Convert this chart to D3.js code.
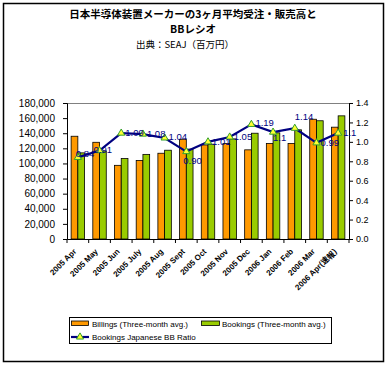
<!DOCTYPE html>
<html><head><meta charset="utf-8">
<script src="https://cdn.jsdelivr.net/npm/d3@7"></script>
<style>
body{margin:0;background:#fff;}
svg{display:block;}
text{font-family:"Liberation Sans",Arial,sans-serif;}
</style></head>
<body><svg id="c" width="388" height="366"></svg>
<script>
const categories = ["2005 Apr","2005 May","2005 Jun","2005 July","2005 Aug","2005 Sept","2005 Oct","2005 Nov","2005 Dec","2006 Jan","2006 Feb","2006 Mar","2006 Apr(速報)"];
const billings = [136000,128000,97500,104000,113500,132000,124500,126500,118000,126500,126500,158500,148000];
const bookings = [114000,116500,106500,112000,117500,119000,125500,132500,140000,140500,144500,156500,163000];
const ratio = [0.84,0.91,1.09,1.08,1.04,0.90,1.00,1.05,1.18,1.10,1.14,0.99,1.09];
const ratioLabels = ["0.84","0.91","1.09","1.08","1.04","0.90","1.01","1.05","1.19","1.1","1.14","0.99","1.1"];
const leftTicks = [0,20000,40000,60000,80000,100000,120000,140000,160000,180000];
const rightTicks = [0,0.2,0.4,0.6,0.8,1.0,1.2,1.4];
const seriesNames = ["Billings (Three-month avg.)","Bookings (Three-month avg.)","Bookings Japanese BB Ratio"];
const titleLines = ["日本半導体装置メーカーの3ヶ月平均受注・販売高と","BBレシオ","出典：SEAJ（百万円）"];

// label placement offsets (style only)
const labelOffsets = [[-2,-4],[-6,-1],[4,0],[4,0],[4,-1],[-3,9],[4,0],[4,0],[4,-2],[0,6],[0,-12],[4,0],[5,0]];

const svg = d3.select("#c");
const L=67,R=349,T=103,B=239;
const orange="#FF9900", green="#99CC00", navy="#000080";

svg.append("rect").attr("x",3.5).attr("y",3.5).attr("width",380).attr("height",358)
  .attr("fill","#fff").attr("stroke","#000").attr("stroke-width",1.5);

// title
const tfont = '"Noto Sans CJK JP","Noto Sans",sans-serif';
svg.append("text").attr("x",193).attr("y",18).attr("text-anchor","middle")
  .style("font-family",tfont).style("font-size","10.5px").style("font-weight","bold").text(titleLines[0]);
svg.append("text").attr("x",193).attr("y",33).attr("text-anchor","middle")
  .style("font-family",tfont).style("font-size","10.5px").style("font-weight","bold").text(titleLines[1]);
svg.append("text").attr("x",185).attr("y",47.5).attr("text-anchor","middle")
  .style("font-family",tfont).style("font-size","9.5px").text(titleLines[2]);

const x = d3.scaleBand().domain(categories).range([L,R]).padding(0);
const bw = x.bandwidth();
const sub = d3.scaleBand().domain(["b","k"]).range([bw*0.19, bw*0.81]).padding(0);
const yL = d3.scaleLinear().domain([0,180000]).range([B,T]);
const yR = d3.scaleLinear().domain([0,1.4]).range([B,T]);

// top border of plot
svg.append("line").attr("x1",L).attr("x2",R).attr("y1",T+0.5).attr("y2",T+0.5).attr("stroke","#808080").attr("stroke-width",1);

// bars
const g = svg.append("g");
categories.forEach((c,i)=>{
  g.append("rect").attr("x",x(c)+sub("b")).attr("y",yL(billings[i])).attr("width",sub.bandwidth()).attr("height",B-yL(billings[i]))
    .attr("fill",orange).attr("stroke","#000").attr("stroke-width",0.8);
  g.append("rect").attr("x",x(c)+sub("k")).attr("y",yL(bookings[i])).attr("width",sub.bandwidth()).attr("height",B-yL(bookings[i]))
    .attr("fill",green).attr("stroke","#000").attr("stroke-width",0.8);
});

// axes
const axL = d3.axisLeft(yL).tickValues(leftTicks).tickSize(4).tickPadding(8).tickFormat(d3.format(","));
const gL = svg.append("g").attr("transform",`translate(${L},0)`).call(axL);
gL.selectAll("text").style("font-size","10px").style("fill","#000");
gL.selectAll("path,line").attr("stroke","#000");

const axR = d3.axisRight(yR).tickValues(rightTicks).tickSize(4).tickPadding(3).tickFormat(d3.format(".1f"));
const gR = svg.append("g").attr("transform",`translate(${R},0)`).call(axR);
gR.selectAll("text").style("font-size","9px").style("fill","#000");
gR.selectAll("path,line").attr("stroke","#000");

const axB = d3.axisBottom(x).tickSize(0).tickFormat("");
const gB = svg.append("g").attr("transform",`translate(0,${B})`).call(axB);
gB.selectAll("path").attr("stroke","#000");
// category divider ticks
categories.forEach((c,i)=>{
  svg.append("line").attr("x1",x(c)).attr("x2",x(c)).attr("y1",B).attr("y2",B+4).attr("stroke","#000");
});
svg.append("line").attr("x1",R).attr("x2",R).attr("y1",B).attr("y2",B+4).attr("stroke","#000");

// x labels
categories.forEach((c,i)=>{
  const cx = x(c)+bw/2;
  svg.append("text").attr("transform",`translate(${cx-3},${B+11}) rotate(-45)`)
    .attr("text-anchor","end").attr("dy","0.35em")
    .style("font-size","8px").style("font-weight","bold").text(c);
});

// ratio line
const line = d3.line().x((d,i)=>x(categories[i])+bw/2).y(d=>yR(d));
svg.append("path").datum(ratio).attr("d",line).attr("fill","none").attr("stroke",navy).attr("stroke-width",2.2);
const tri = d3.symbol().type(d3.symbolTriangle).size(22);
ratio.forEach((d,i)=>{
  svg.append("path").attr("d",tri()).attr("transform",`translate(${x(categories[i])+bw/2},${yR(d)})`)
    .attr("fill","#FFFF33").attr("stroke","#33A02C").attr("stroke-width",1);
});
ratio.forEach((d,i)=>{
  const mx = x(categories[i])+bw/2, my=yR(d);
  svg.append("text").attr("x",mx+labelOffsets[i][0]).attr("y",my+labelOffsets[i][1]).attr("dy","0.35em")
    .style("font-size","9.5px").style("fill",navy).text(ratioLabels[i]);
});

// legend
svg.append("rect").attr("x",69.5).attr("y",317.5).attr("width",262).attr("height",26).attr("fill","#fff").attr("stroke","#000").attr("stroke-width",1);
svg.append("rect").attr("x",71.5).attr("y",321).attr("width",17).attr("height",4.5).attr("fill",orange).attr("stroke","#000").attr("stroke-width",0.8);
svg.append("text").attr("x",92).attr("y",326.5).style("font-size","8px").text(seriesNames[0]);
svg.append("rect").attr("x",201.5).attr("y",321).attr("width",18).attr("height",4.5).attr("fill",green).attr("stroke","#000").attr("stroke-width",0.8);
svg.append("text").attr("x",222).attr("y",326.5).style("font-size","8px").text(seriesNames[1]);
svg.append("line").attr("x1",71).attr("x2",89).attr("y1",337).attr("y2",337).attr("stroke",navy).attr("stroke-width",2.2);
svg.append("path").attr("d",tri()).attr("transform","translate(80,337)").attr("fill","#FFFF33").attr("stroke","#33A02C");
svg.append("text").attr("x",92).attr("y",340).style("font-size","8px").text(seriesNames[2]);
</script></body></html>
